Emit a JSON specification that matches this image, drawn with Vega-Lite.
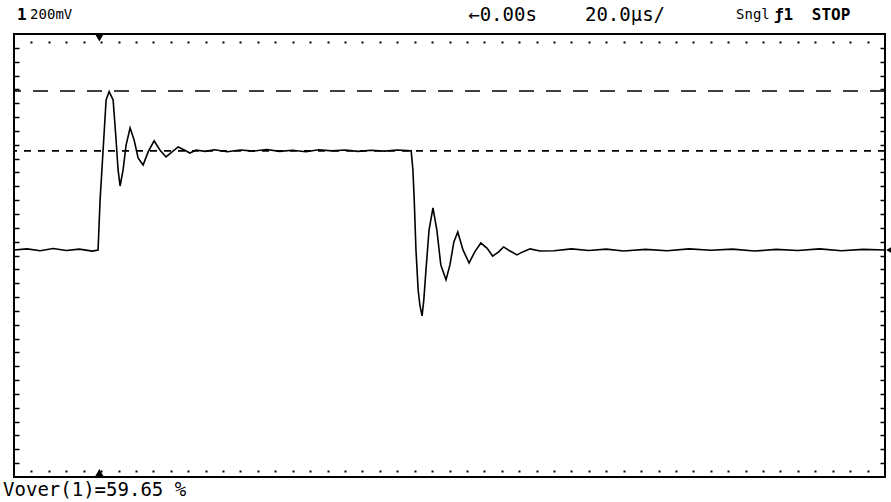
{
  "$schema": "https://vega.github.io/schema/vega-lite/v6.json",
  "width": 871,
  "height": 443,
  "autosize": {"type": "none"},
  "padding": {"left": 14, "top": 34, "right": 6, "bottom": 25},
  "background": "white",
  "config": {"view": {"stroke": "black", "strokeWidth": 2}},
  "datasets": {
    "trace": [
      {"t": -20, "mv": 0}, {"t": -17, "mv": 4}, {"t": -14, "mv": -3}, {"t": -11, "mv": 5}, {"t": -8, "mv": -2}, {"t": -5, "mv": 3}, {"t": -2, "mv": -4}, {"t": -0.7, "mv": 0},
      {"t": -0.23, "mv": 181}, {"t": 0.46, "mv": 361}, {"t": 1.15, "mv": 542}, {"t": 1.84, "mv": 572}, {"t": 2.76, "mv": 542}, {"t": 3.44, "mv": 397}, {"t": 3.9, "mv": 289}, {"t": 4.36, "mv": 231},
      {"t": 5.05, "mv": 289}, {"t": 5.74, "mv": 379}, {"t": 6.66, "mv": 441}, {"t": 7.58, "mv": 397}, {"t": 8.5, "mv": 332}, {"t": 9.64, "mv": 307}, {"t": 10.8, "mv": 354}, {"t": 12.17, "mv": 394},
      {"t": 13.5, "mv": 361}, {"t": 14.9, "mv": 336}, {"t": 16.3, "mv": 354}, {"t": 17.7, "mv": 372}, {"t": 19.1, "mv": 361}, {"t": 20.4, "mv": 350}, {"t": 21.8, "mv": 361}, {"t": 23.9, "mv": 356},
      {"t": 26, "mv": 362}, {"t": 29, "mv": 355}, {"t": 32, "mv": 361}, {"t": 35, "mv": 357}, {"t": 38, "mv": 363}, {"t": 41, "mv": 356}, {"t": 44, "mv": 360}, {"t": 47, "mv": 355},
      {"t": 50, "mv": 362}, {"t": 53, "mv": 358}, {"t": 56, "mv": 361}, {"t": 59, "mv": 356}, {"t": 62, "mv": 360}, {"t": 65, "mv": 357}, {"t": 68, "mv": 361}, {"t": 71.2, "mv": 358},
      {"t": 71.6, "mv": 289}, {"t": 71.9, "mv": 181}, {"t": 72.3, "mv": 0}, {"t": 72.8, "mv": -144}, {"t": 73.2, "mv": -199}, {"t": 73.7, "mv": -238}, {"t": 74.1, "mv": -181}, {"t": 74.6, "mv": -72},
      {"t": 75.3, "mv": 72}, {"t": 76.2, "mv": 152}, {"t": 77.1, "mv": 72}, {"t": 78.0, "mv": -54}, {"t": 79.2, "mv": -108}, {"t": 80.1, "mv": -54}, {"t": 81.0, "mv": 29}, {"t": 81.9, "mv": 65},
      {"t": 83.1, "mv": 0}, {"t": 84.5, "mv": -47}, {"t": 85.8, "mv": -7}, {"t": 87.2, "mv": 25}, {"t": 88.6, "mv": 7}, {"t": 89.9, "mv": -22}, {"t": 91.3, "mv": -7}, {"t": 92.4, "mv": 11},
      {"t": 93.9, "mv": -4}, {"t": 95.5, "mv": -18}, {"t": 96.8, "mv": -7}, {"t": 98.5, "mv": 4}, {"t": 100.8, "mv": -4}, {"t": 104, "mv": -3}, {"t": 108, "mv": 4}, {"t": 112, "mv": -2},
      {"t": 116, "mv": 3}, {"t": 120, "mv": -4}, {"t": 125, "mv": 2}, {"t": 130, "mv": -3}, {"t": 135, "mv": 4}, {"t": 140, "mv": -1}, {"t": 145, "mv": 3}, {"t": 150, "mv": -4},
      {"t": 155, "mv": 2}, {"t": 160, "mv": -2}, {"t": 165, "mv": 4}, {"t": 170, "mv": -3}, {"t": 175, "mv": 2}, {"t": 180, "mv": 0}
    ],
    "markers": [
      {"t": -0.4, "mv": 768, "kind": "trig_top"},
      {"t": -0.4, "mv": -806, "kind": "trig_bottom"},
      {"t": 181.2, "mv": 0, "kind": "ground"}
    ],
    "smalllabels": [
      {"t": -16.3, "mv": 849, "text": "200mV"},
      {"t": 145.8, "mv": 849, "text": "Sngl"}
    ],
    "labels": [
      {"t": 84.3, "mv": 849, "text": "←0.00s"},
      {"t": 111.1, "mv": 849, "text": "20.0µs/"},
      {"t": -22.5, "mv": -867, "text": "Vover(1)=59.65 %"}
    ],
    "boldlabels": [
      {"t": -19.3, "mv": 849, "text": "1"},
      {"t": 154.5, "mv": 849, "text": "ƒ1"},
      {"t": 163.2, "mv": 849, "text": "STOP"}
    ]
  },
  "layer": [
    {
      "data": {"values": [{"mv": 574}]},
      "mark": {"type": "rule", "stroke": "black", "strokeWidth": 1.5, "strokeDash": [15, 12]},
      "encoding": {"y": {"field": "mv", "type": "quantitative", "scale": {"domain": [-820, 780]}, "axis": null}}
    },
    {
      "data": {"values": [{"mv": 358}]},
      "mark": {"type": "rule", "stroke": "black", "strokeWidth": 1.8, "strokeDash": [7, 7]},
      "encoding": {"y": {"field": "mv", "type": "quantitative", "axis": null}}
    },
    {
      "data": {"name": "trace"},
      "mark": {"type": "line", "stroke": "black", "strokeWidth": 1.6, "interpolate": "linear"},
      "encoding": {
        "x": {"field": "t", "type": "quantitative", "scale": {"domain": [-20, 180], "nice": false, "zero": false},
          "axis": {"orient": "top", "values": [-16, -12, -8, -4, 0, 4, 8, 12, 16, 20, 24, 28, 32, 36, 40, 44, 48, 52, 56, 60, 64, 68, 72, 76, 80, 84, 88, 92, 96, 100, 104, 108, 112, 116, 120, 124, 128, 132, 136, 140, 144, 148, 152, 156, 160, 164, 168, 172, 176],
            "offset": -9, "tickSize": 2, "tickWidth": 2, "tickColor": "black", "labels": false, "domain": false, "grid": false, "title": null}},
        "y": {"field": "mv", "type": "quantitative", "scale": {"domain": [-820, 780], "nice": false, "zero": false},
          "axis": {"orient": "left", "values": [730, 680, 630, 580, 530, 480, 430, 380, 330, 280, 230, 180, 130, 80, 30, -20, -70, -120, -170, -220, -270, -320, -370, -420, -470, -520, -570, -620, -670, -720, -770],
            "tickSize": -5, "tickWidth": 1.5, "tickColor": "black", "labels": false, "domain": false, "grid": false, "title": null}}
      }
    },
    {
      "data": {"name": "markers"},
      "mark": {"type": "point", "filled": true, "color": "black", "size": 90, "opacity": 1},
      "encoding": {
        "x": {"field": "t", "type": "quantitative",
          "axis": {"orient": "bottom", "values": [-16, -12, -8, -4, 0, 4, 8, 12, 16, 20, 24, 28, 32, 36, 40, 44, 48, 52, 56, 60, 64, 68, 72, 76, 80, 84, 88, 92, 96, 100, 104, 108, 112, 116, 120, 124, 128, 132, 136, 140, 144, 148, 152, 156, 160, 164, 168, 172, 176],
            "offset": -7, "tickSize": 2, "tickWidth": 2, "tickColor": "black", "labels": false, "domain": false, "grid": false, "title": null}},
        "y": {"field": "mv", "type": "quantitative",
          "axis": {"orient": "right", "values": [730, 680, 630, 580, 530, 480, 430, 380, 330, 280, 230, 180, 130, 80, 30, -20, -70, -120, -170, -220, -270, -320, -370, -420, -470, -520, -570, -620, -670, -720, -770],
            "tickSize": -5, "tickWidth": 1.5, "tickColor": "black", "labels": false, "domain": false, "grid": false, "title": null}},
        "shape": {"field": "kind", "type": "nominal", "scale": {"domain": ["trig_top", "trig_bottom", "ground"], "range": ["triangle-down", "triangle-up", "triangle-left"]}, "legend": null}
      }
    },
    {
      "data": {"name": "smalllabels"},
      "mark": {"type": "text", "align": "left", "baseline": "middle", "font": "DejaVu Sans Mono", "fontSize": 14, "color": "black", "clip": false},
      "encoding": {
        "x": {"field": "t", "type": "quantitative", "axis": null},
        "y": {"field": "mv", "type": "quantitative", "axis": null},
        "text": {"field": "text"}
      }
    },
    {
      "data": {"name": "labels"},
      "mark": {"type": "text", "align": "left", "baseline": "middle", "font": "DejaVu Sans Mono", "fontSize": 19, "color": "black", "clip": false},
      "encoding": {
        "x": {"field": "t", "type": "quantitative", "axis": null},
        "y": {"field": "mv", "type": "quantitative", "axis": null},
        "text": {"field": "text"}
      }
    },
    {
      "data": {"name": "boldlabels"},
      "mark": {"type": "text", "align": "left", "baseline": "middle", "font": "DejaVu Sans Mono", "fontSize": 16, "fontWeight": "bold", "color": "black", "clip": false},
      "encoding": {
        "x": {"field": "t", "type": "quantitative", "axis": null},
        "y": {"field": "mv", "type": "quantitative", "axis": null},
        "text": {"field": "text"}
      }
    }
  ],
  "resolve": {"axis": {"x": "independent", "y": "independent"}}
}
